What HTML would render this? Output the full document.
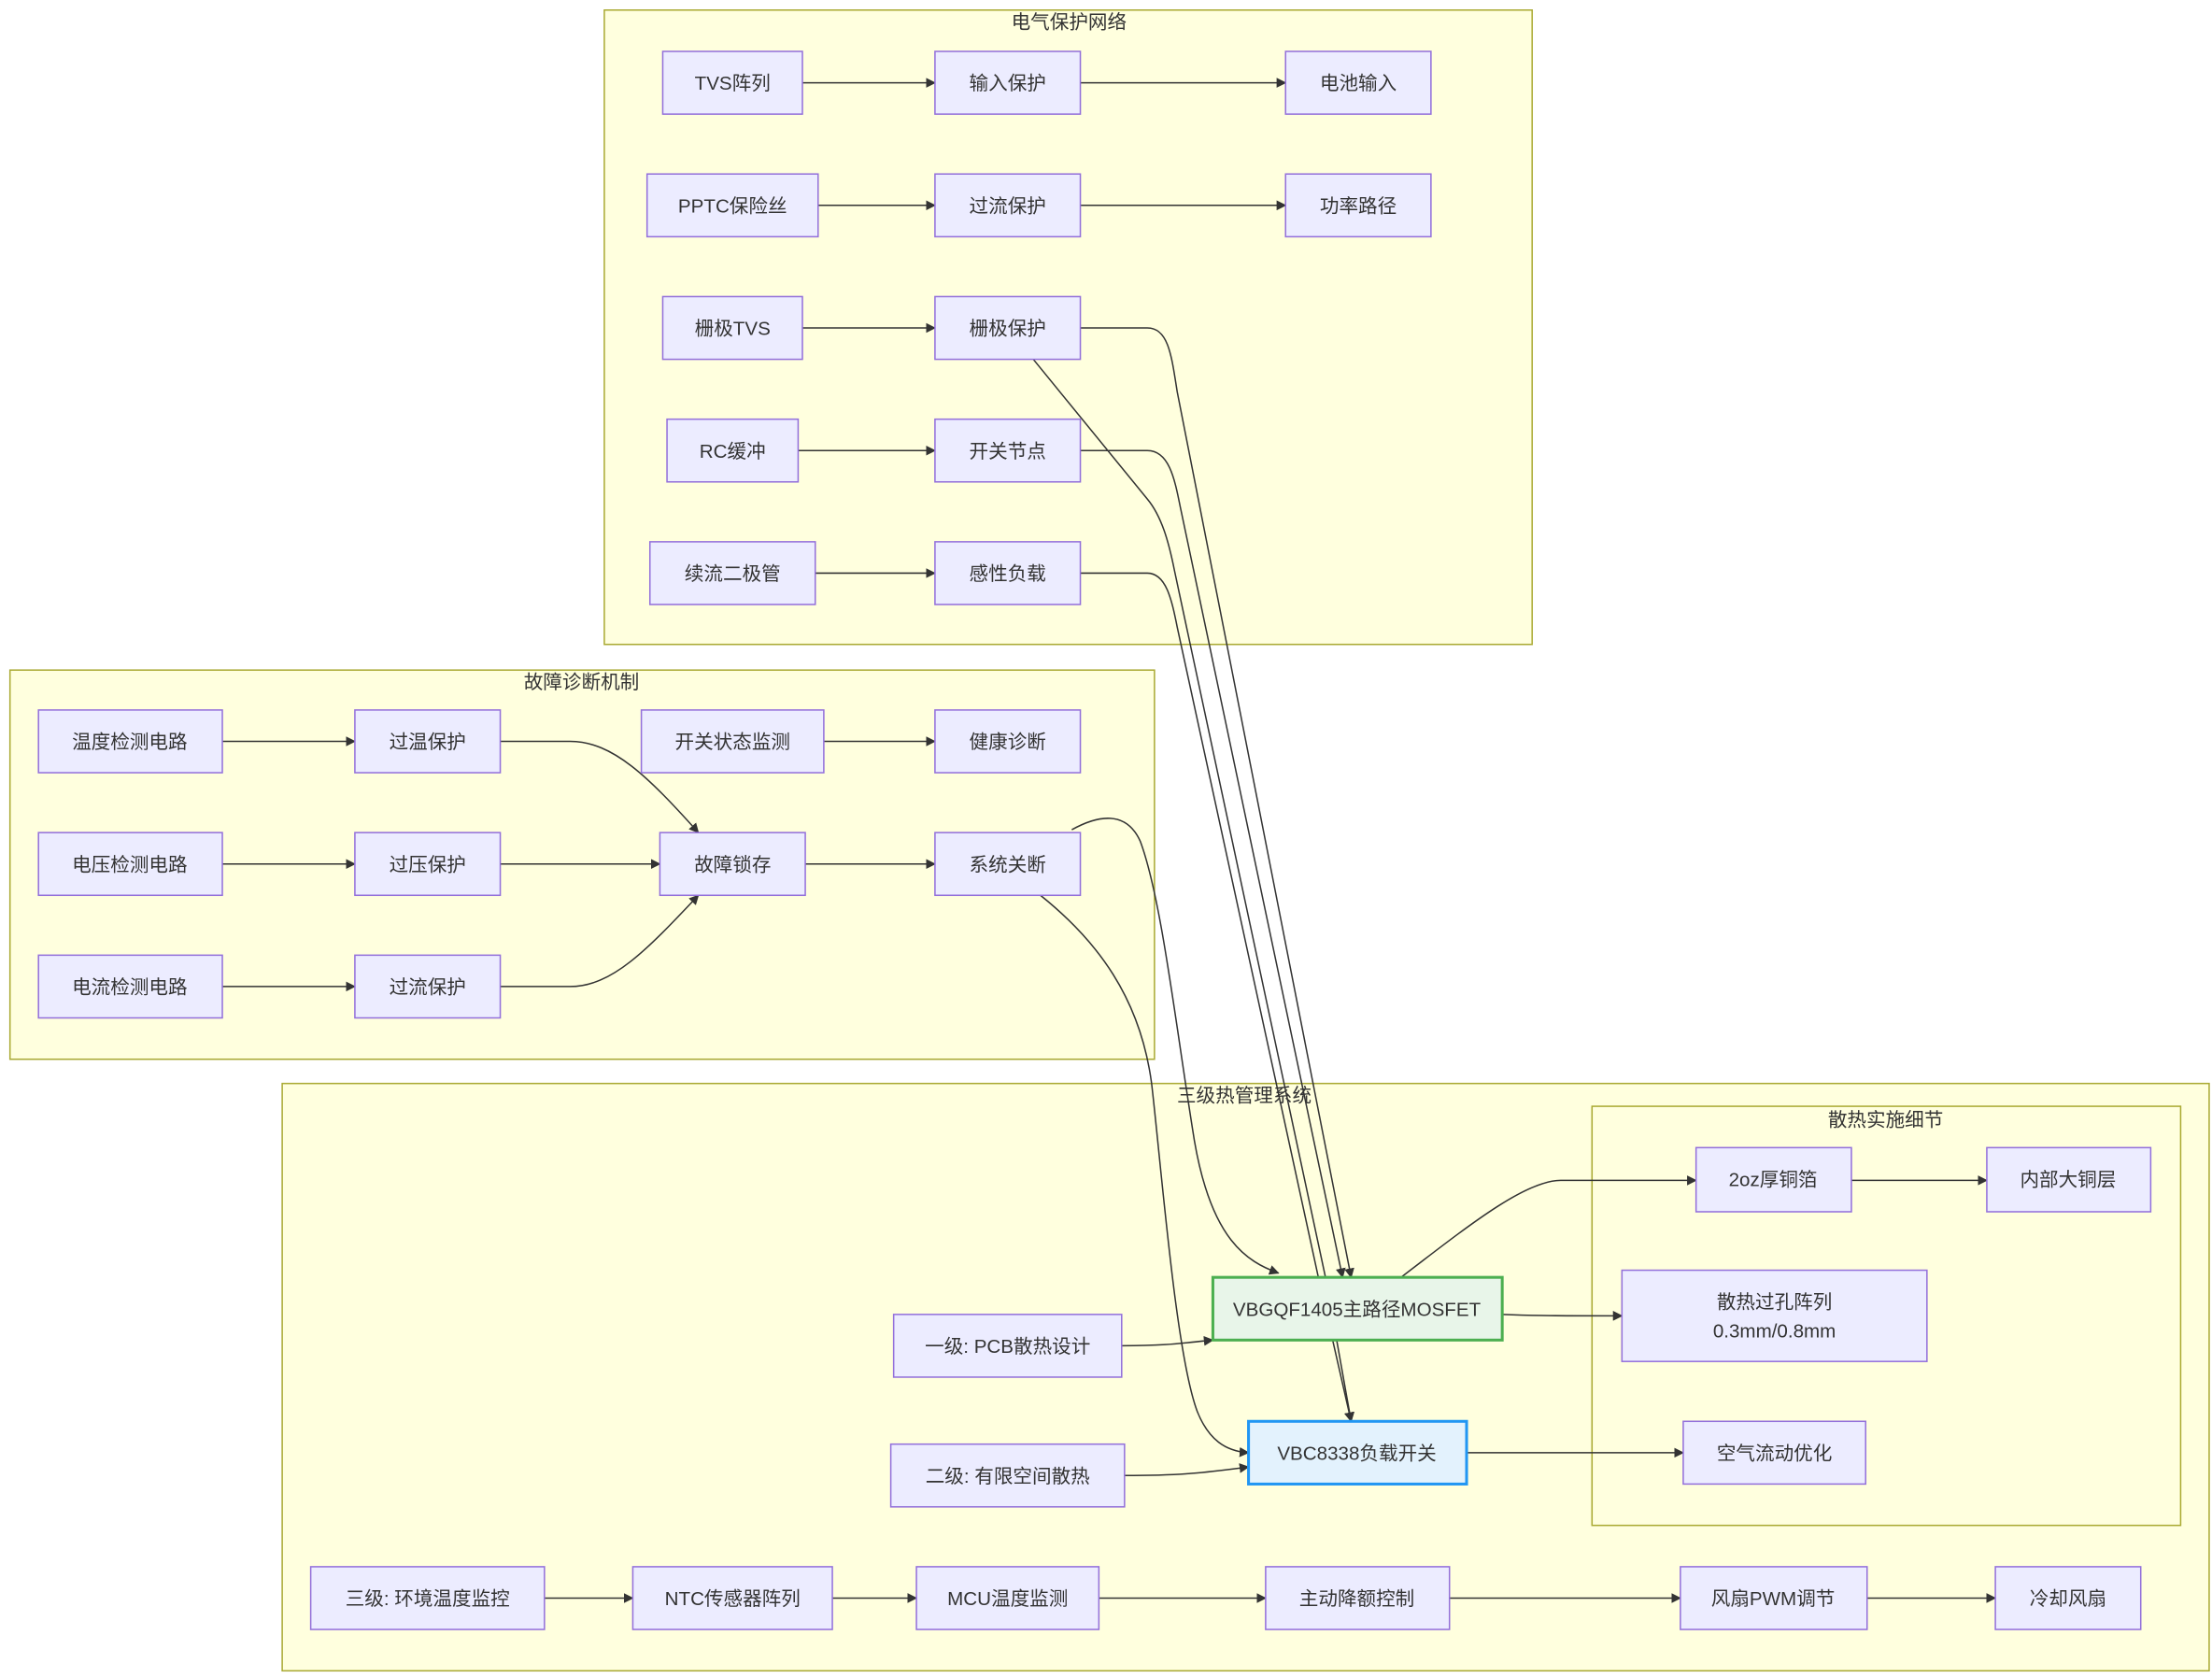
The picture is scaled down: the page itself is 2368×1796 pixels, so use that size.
<!DOCTYPE html>
<html><head><meta charset="utf-8"><style>
html,body{margin:0;padding:0;background:#fff;}
svg{display:block;}
text{font-family:"Liberation Sans","Noto Sans CJK SC",sans-serif;font-size:13.5px;fill:#333;}
.c{fill:#ffffde;stroke:#aaaa33;stroke-width:1;}
.n{fill:#ececff;stroke:#9370db;stroke-width:1;}
.e{fill:none;stroke:#333;stroke-width:1;}
</style></head><body>
<svg width="2368" height="1796" viewBox="0 0 1552 1177" xmlns="http://www.w3.org/2000/svg">
<defs><marker id="a" viewBox="0 0 10 10" refX="9" refY="5" markerWidth="7" markerHeight="7" orient="auto"><path d="M0,0L10,5L0,10z" fill="#333"/></marker></defs>
<!-- clusters -->
<rect class="c" x="424" y="7" width="651" height="445"/>
<text x="750" y="20" text-anchor="middle">电气保护网络</text>
<rect class="c" x="7" y="470" width="803" height="273"/>
<text x="408" y="483" text-anchor="middle">故障诊断机制</text>
<rect class="c" x="198" y="760" width="1352" height="412"/>
<text x="873" y="773" text-anchor="middle">三级热管理系统</text>
<rect class="c" x="1117" y="776" width="413" height="294"/>
<text x="1323" y="790" text-anchor="middle">散热实施细节</text>

<!-- edges -->
<g class="e" marker-end="url(#a)">
<path d="M563,58H656"/><path d="M758,58H902"/>
<path d="M574,144H656"/><path d="M758,144H902"/>
<path d="M563,230H656"/><path d="M560,316H656"/><path d="M572,402H656"/>
<path d="M156,520H249"/><path d="M156,606H249"/><path d="M156,692H249"/>
<path d="M351,520H400C430,520 455,545 490,584"/>
<path d="M351,606H463"/>
<path d="M351,692H400C430,692 455,665 490,628"/>
<path d="M578,520H656"/><path d="M565,606H656"/>
<path d="M758,230H805C820,230 822,250 826,275L948,896"/>
<path d="M758,316H805C820,316 824,335 828,355L942,896"/>
<path d="M725,252L805,350C815,362 820,380 824,400L930,896L948,997"/>
<path d="M758,402H805C818,402 822,420 826,440L925,896L948,997"/>
<path d="M752,582C770,572 790,568 800,590C815,630 825,720 838,800C850,870 875,885 897,893"/>
<path d="M730,628C770,660 800,700 808,760C815,820 825,950 840,990C848,1010 860,1018 876,1019"/>
<path d="M787,944C820,944 830,942 851,940"/>
<path d="M789,1035C830,1035 845,1033 876,1029"/>
<path d="M983,896C1030,860 1070,828 1095,828H1190"/>
<path d="M1054,922C1080,923 1100,923 1138,923"/>
<path d="M1029,1019H1181"/><path d="M1299,828H1394"/>
<path d="M382,1121H444"/><path d="M584,1121H643"/><path d="M771,1121H888"/><path d="M1017,1121H1179"/><path d="M1310,1121H1400"/>
</g>

<!-- nodes -->
<g>
<rect class="n" x="465" y="36" width="98" height="44"/><text x="514" y="63" text-anchor="middle">TVS阵列</text>
<rect class="n" x="656" y="36" width="102" height="44"/><text x="707" y="63" text-anchor="middle">输入保护</text>
<rect class="n" x="902" y="36" width="102" height="44"/><text x="953" y="63" text-anchor="middle">电池输入</text>
<rect class="n" x="454" y="122" width="120" height="44"/><text x="514" y="149" text-anchor="middle">PPTC保险丝</text>
<rect class="n" x="656" y="122" width="102" height="44"/><text x="707" y="149" text-anchor="middle">过流保护</text>
<rect class="n" x="902" y="122" width="102" height="44"/><text x="953" y="149" text-anchor="middle">功率路径</text>
<rect class="n" x="465" y="208" width="98" height="44"/><text x="514" y="235" text-anchor="middle">栅极TVS</text>
<rect class="n" x="656" y="208" width="102" height="44"/><text x="707" y="235" text-anchor="middle">栅极保护</text>
<rect class="n" x="468" y="294" width="92" height="44"/><text x="514" y="321" text-anchor="middle">RC缓冲</text>
<rect class="n" x="656" y="294" width="102" height="44"/><text x="707" y="321" text-anchor="middle">开关节点</text>
<rect class="n" x="456" y="380" width="116" height="44"/><text x="514" y="407" text-anchor="middle">续流二极管</text>
<rect class="n" x="656" y="380" width="102" height="44"/><text x="707" y="407" text-anchor="middle">感性负载</text>

<rect class="n" x="27" y="498" width="129" height="44"/><text x="91" y="525" text-anchor="middle">温度检测电路</text>
<rect class="n" x="249" y="498" width="102" height="44"/><text x="300" y="525" text-anchor="middle">过温保护</text>
<rect class="n" x="450" y="498" width="128" height="44"/><text x="514" y="525" text-anchor="middle">开关状态监测</text>
<rect class="n" x="656" y="498" width="102" height="44"/><text x="707" y="525" text-anchor="middle">健康诊断</text>
<rect class="n" x="27" y="584" width="129" height="44"/><text x="91" y="611" text-anchor="middle">电压检测电路</text>
<rect class="n" x="249" y="584" width="102" height="44"/><text x="300" y="611" text-anchor="middle">过压保护</text>
<rect class="n" x="463" y="584" width="102" height="44"/><text x="514" y="611" text-anchor="middle">故障锁存</text>
<rect class="n" x="656" y="584" width="102" height="44"/><text x="707" y="611" text-anchor="middle">系统关断</text>
<rect class="n" x="27" y="670" width="129" height="44"/><text x="91" y="697" text-anchor="middle">电流检测电路</text>
<rect class="n" x="249" y="670" width="102" height="44"/><text x="300" y="697" text-anchor="middle">过流保护</text>

<rect class="n" x="1190" y="805" width="109" height="45"/><text x="1244" y="832" text-anchor="middle">2oz厚铜箔</text>
<rect class="n" x="1394" y="805" width="115" height="45"/><text x="1451" y="832" text-anchor="middle">内部大铜层</text>
<rect class="n" x="1138" y="891" width="214" height="64"/><text x="1245" y="918" text-anchor="middle">散热过孔阵列</text><text x="1245" y="938" text-anchor="middle">0.3mm/0.8mm</text>
<rect class="n" x="1181" y="997" width="128" height="44"/><text x="1245" y="1024" text-anchor="middle">空气流动优化</text>
<rect x="851" y="896" width="203" height="44" fill="#e8f5e9" stroke="#4caf50" stroke-width="2"/><text x="952" y="923" text-anchor="middle">VBGQF1405主路径MOSFET</text>
<rect x="876" y="997" width="153" height="44" fill="#e3f2fd" stroke="#2196f3" stroke-width="2"/><text x="952" y="1024" text-anchor="middle">VBC8338负载开关</text>
<rect class="n" x="627" y="922" width="160" height="44"/><text x="707" y="949" text-anchor="middle">一级: PCB散热设计</text>
<rect class="n" x="625" y="1013" width="164" height="44"/><text x="707" y="1040" text-anchor="middle">二级: 有限空间散热</text>

<rect class="n" x="218" y="1099" width="164" height="44"/><text x="300" y="1126" text-anchor="middle">三级: 环境温度监控</text>
<rect class="n" x="444" y="1099" width="140" height="44"/><text x="514" y="1126" text-anchor="middle">NTC传感器阵列</text>
<rect class="n" x="643" y="1099" width="128" height="44"/><text x="707" y="1126" text-anchor="middle">MCU温度监测</text>
<rect class="n" x="888" y="1099" width="129" height="44"/><text x="952" y="1126" text-anchor="middle">主动降额控制</text>
<rect class="n" x="1179" y="1099" width="131" height="44"/><text x="1244" y="1126" text-anchor="middle">风扇PWM调节</text>
<rect class="n" x="1400" y="1099" width="102" height="44"/><text x="1451" y="1126" text-anchor="middle">冷却风扇</text>
</g>
</svg>
</body></html>
